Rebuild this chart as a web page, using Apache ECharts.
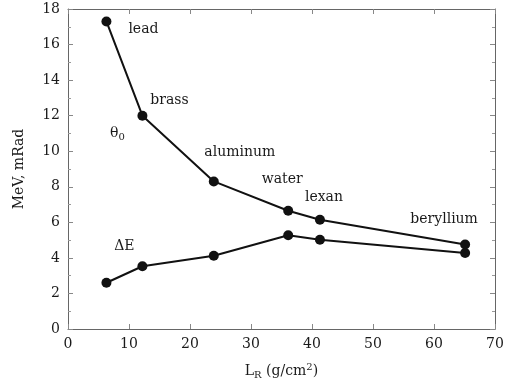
<!DOCTYPE html>
<html><head><meta charset="utf-8">
<script src="https://cdn.jsdelivr.net/npm/echarts@6/dist/echarts.min.js"></script>
<style>html,body{margin:0;padding:0;background:#fff}#c{width:508px;height:389px}</style>
</head><body><div id="c"></div>
<script>
const materials = ['lead','brass','aluminum','water','lexan','beryllium'];
const lengthR = [6.3, 12.2, 23.9, 36.1, 41.3, 65.1];
const theta0 = [17.3, 12.0, 8.3, 6.65, 6.15, 4.75];
const deltaE = [2.6, 3.53, 4.12, 5.27, 5.02, 4.27];
const xTicks = [0,10,20,30,40,50,60,70];
const yTicks = [0,2,4,6,8,10,12,14,16,18];

const font = 'DejaVu Serif';
const fs = 14;
const txt = '#1a1a1a';
const labelOffsets = {lead:[37,8], brass:[27,-15], aluminum:[26,-29], water:[-6,-31], lexan:[4,-22], beryllium:[-21,-25]};

const thetaData = lengthR.map((x,i)=>({
  value:[x, theta0[i]],
  label:{show:true, position:'inside', formatter:materials[i], offset:labelOffsets[materials[i]], color:txt, fontFamily:font, fontSize:fs}
}));
const thetaName = {value:[lengthR[1], theta0[1]], label:{show:true, position:'inside', formatter:'{a|θ}{s|0}', offset:[-25,18], color:txt, opacity:1,
  rich:{a:{fontFamily:font,fontSize:fs,color:txt}, s:{fontFamily:font,fontSize:10,color:txt,padding:[7,0,0,0]}}}};
const deltaData = lengthR.map((x,i)=>[x, deltaE[i]]);
const deltaName = {value:[lengthR[1], deltaE[1]], label:{show:true, position:'inside', formatter:'ΔE', offset:[-18,-20], color:txt, opacity:1, fontFamily:font, fontSize:fs}};

function axisStyle(){
  return {
    axisLine:{show:true, onZero:false, lineStyle:{color:'#666', width:1}},
    axisTick:{show:true, inside:true, length:5, lineStyle:{color:'#888'}},
    splitLine:{show:false},
  };
}
const chart = echarts.init(document.getElementById('c'));
chart.setOption({
  animation:false,
  grid:{left:68, right:13, top:9, bottom:60},
  xAxis:[
    Object.assign(axisStyle(), {type:'value', min:xTicks[0], max:xTicks[xTicks.length-1], interval:10, position:'bottom',
      axisLabel:{color:txt, fontFamily:font, fontSize:fs, margin:8},
      name:'{a|L}{s|R}{a| (g/cm}{p|2}{a|)}', nameLocation:'middle', nameGap:33,
      nameTextStyle:{rich:{a:{fontFamily:font,fontSize:fs,color:txt}, s:{fontFamily:font,fontSize:10,color:txt,padding:[8,0,0,0]}, p:{fontFamily:font,fontSize:10,color:txt,padding:[0,0,7,0]}}}
    }),
    Object.assign(axisStyle(), {type:'value', min:0, max:70, interval:10, position:'top', axisLabel:{show:false}})
  ],
  yAxis:[
    Object.assign(axisStyle(), {type:'value', min:yTicks[0], max:yTicks[yTicks.length-1], interval:2, position:'left',
      axisLabel:{color:txt, fontFamily:font, fontSize:fs, margin:8},
      minorTick:{show:true, splitNumber:2, length:3, lineStyle:{color:'#999'}},
      name:'MeV, mRad', nameLocation:'middle', nameGap:42, nameTextStyle:{fontFamily:font, fontSize:fs, color:txt}
    }),
    Object.assign(axisStyle(), {type:'value', min:0, max:18, interval:2, position:'right', axisLabel:{show:false},
      minorTick:{show:true, splitNumber:2, length:3, lineStyle:{color:'#999'}}})
  ],
  series:[
    {type:'line', data:thetaData, symbol:'circle', symbolSize:10, itemStyle:{color:'#111'}, lineStyle:{color:'#111', width:2}, z:3},
    {type:'scatter', data:[thetaName, deltaName], symbolSize:0, itemStyle:{color:'#111', opacity:1}},
    {type:'line', data:deltaData, symbol:'circle', symbolSize:10, itemStyle:{color:'#111'}, lineStyle:{color:'#111', width:2}, z:3}
  ]
});
</script></body></html>
